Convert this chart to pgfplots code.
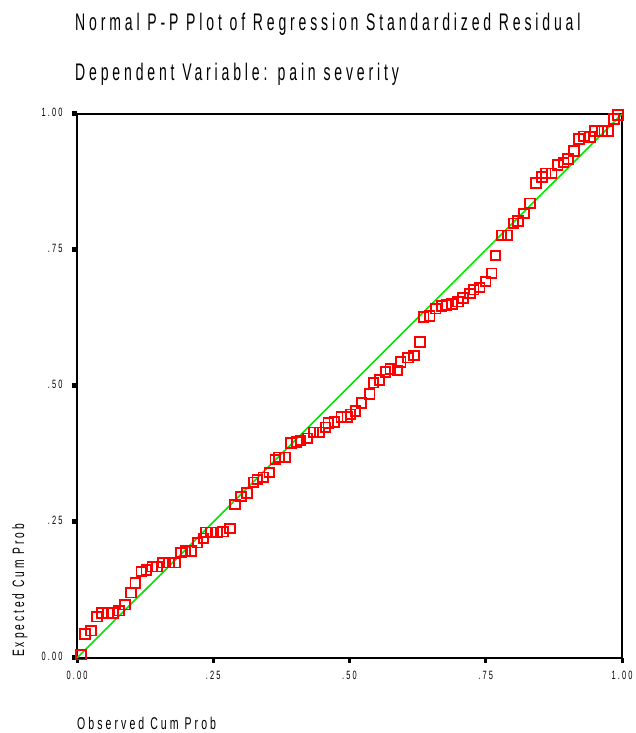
\documentclass[border=0pt]{standalone}
\usepackage{pgfplots}
\pgfplotsset{compat=1.18}
\usepackage{fontspec}
\setmainfont{Liberation Sans}[FakeStretch=0.62, LetterSpace=18]
\newfontfamily\titlefont{Liberation Sans}[FakeStretch=0.585, LetterSpace=16]

\definecolor{ppred}{RGB}{255,0,0}
\definecolor{ppgreen}{RGB}{0,230,0}

\pgfplotstableread{
obs exp
0.007 0.006
0.015 0.044
0.026 0.050
0.037 0.076
0.046 0.083
0.057 0.083
0.066 0.083
0.077 0.087
0.088 0.098
0.099 0.120
0.107 0.138
0.118 0.159
0.127 0.162
0.138 0.168
0.147 0.168
0.158 0.175
0.169 0.175
0.180 0.175
0.191 0.194
0.199 0.197
0.210 0.197
0.221 0.212
0.232 0.220
0.237 0.231
0.246 0.231
0.257 0.231
0.268 0.232
0.281 0.238
0.290 0.282
0.301 0.297
0.312 0.303
0.324 0.323
0.331 0.328
0.342 0.332
0.353 0.341
0.364 0.365
0.371 0.369
0.382 0.369
0.393 0.395
0.403 0.397
0.410 0.400
0.423 0.404
0.434 0.415
0.445 0.415
0.456 0.424
0.461 0.432
0.472 0.434
0.485 0.443
0.496 0.443
0.502 0.448
0.511 0.454
0.522 0.469
0.537 0.485
0.544 0.506
0.555 0.511
0.566 0.526
0.575 0.531
0.588 0.529
0.594 0.544
0.607 0.552
0.618 0.556
0.629 0.581
0.636 0.627
0.647 0.629
0.658 0.642
0.669 0.647
0.678 0.649
0.688 0.651
0.699 0.655
0.708 0.662
0.721 0.670
0.728 0.677
0.739 0.681
0.750 0.692
0.761 0.707
0.768 0.740
0.779 0.777
0.790 0.777
0.801 0.799
0.809 0.803
0.820 0.817
0.831 0.836
0.842 0.873
0.853 0.884
0.860 0.891
0.871 0.891
0.882 0.906
0.893 0.911
0.901 0.917
0.912 0.932
0.921 0.954
0.930 0.959
0.941 0.958
0.950 0.969
0.963 0.969
0.974 0.969
0.985 0.991
0.993 0.998
}\pptable

\begin{document}
\begin{tikzpicture}[x=1pt,y=1pt]
\path (0,0) rectangle (633,733);
\node[anchor=base west, inner sep=0] at (75,702) {\titlefont\fontsize{24}{28}\selectfont Normal P-P Plot of Regression Standardized Residual};
\node[anchor=base west, inner sep=0] at (75,652) {\titlefont\fontsize{24}{28}\selectfont Dependent Variable: pain severity};
\node[anchor=base west, inner sep=0] at (77,3) {\fontsize{17}{19}\selectfont Observed Cum Prob};
\node[anchor=base west, inner sep=0, rotate=90] at (24,76) {\fontsize{16.5}{18}\selectfont Expected Cum Prob};

\begin{axis}[
    at={(77pt,75pt)}, anchor=south west,
    width=545pt, height=544pt, scale only axis,
    xmin=0, xmax=1, ymin=0, ymax=1,
    clip=false,
    axis line style={line width=2.5pt},
    xtick={0,0.25,0.5,0.75,1},
    ytick={0,0.25,0.5,0.75,1},
    xticklabels={0.00,.25,.50,.75,1.00},
    yticklabels={0.00,.25,.50,.75,1.00},
    tick align=outside,
    x tick style={line width=3pt, black},
    y tick style={line width=5pt, black},
    major tick length=5pt,
    xtick pos=bottom, ytick pos=left,
    ticklabel style={font=\fontsize{12}{14}\selectfont},
    xticklabel style={yshift=-5pt},
    yticklabel style={xshift=-6pt, yshift=2pt},
]
\addplot[ppgreen, line width=1.6pt] coordinates {(0,0) (1,1)};
\addplot[only marks, mark=square, mark size=4.8pt, mark options={ppred, line width=1.8pt}] table[x=obs, y=exp] {\pptable};
\end{axis}
\end{tikzpicture}
\end{document}
